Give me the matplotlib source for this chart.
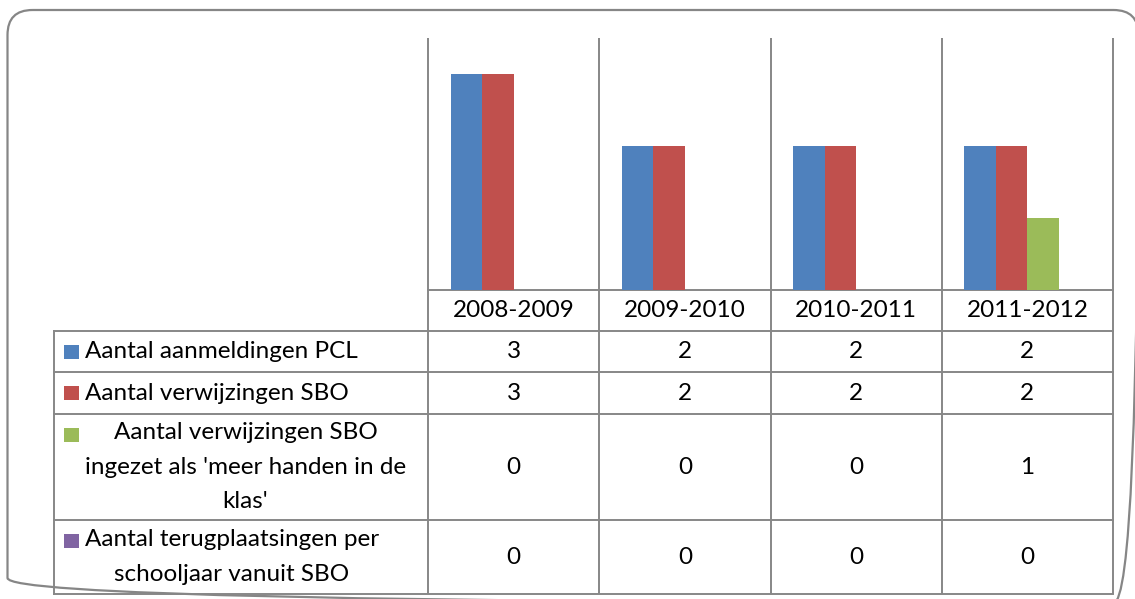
import numpy as np
import matplotlib
matplotlib.use("Agg")
import matplotlib.pyplot as plt
from matplotlib.patches import FancyBboxPatch, Rectangle

# ---- data ----
categories = ["2008-2009", "2009-2010", "2010-2011", "2011-2012"]
series_names = [
    "Aantal aanmeldingen PCL",
    "Aantal verwijzingen SBO",
    "Aantal verwijzingen SBO\ningezet als 'meer handen in de\nklas'",
    "Aantal terugplaatsingen per\nschooljaar vanuit SBO",
]
aanmeldingen_pcl = [3, 2, 2, 2]
verwijzingen_sbo = [3, 2, 2, 2]
verwijzingen_meer_handen = [0, 0, 0, 1]
terugplaatsingen = [0, 0, 0, 0]
series_values = [aanmeldingen_pcl, verwijzingen_sbo, verwijzingen_meer_handen, terugplaatsingen]
colors = ["#4F81BD", "#C0504D", "#9BBB59", "#8064A2"]

# ---- layout (pixels) ----
W, H = 1135, 599
FONT = "Lato"
FS = 17.5
GRID = "#878787"
LW = 1.4

fig = plt.figure(figsize=(W / 100, H / 100), dpi=100)
fig.patch.set_facecolor("white")

# overlay in pixel coordinates
ov = fig.add_axes([0, 0, 1, 1])
ov.set_xlim(0, W)
ov.set_ylim(H, 0)
ov.axis("off")
ov.patch.set_alpha(0)

# plot area
px_left, px_right, px_top, px_base = 428, 1113, 38, 290
ax = fig.add_axes([px_left / W, (H - px_base) / H, (px_right - px_left) / W, (px_base - px_top) / H])
ax.patch.set_alpha(0)
ax.set_xlim(0, len(categories))
ax.set_ylim(0, 3.5)
ax.axis("off")

n = len(series_values)
bw = 0.184
x = np.arange(len(categories)) + 0.5
for j, (vals, c) in enumerate(zip(series_values, colors)):
    ax.bar(x + (j - (n - 1) / 2) * bw, vals, width=bw, color=c, linewidth=0, zorder=3)

# border
border = FancyBboxPatch((7.5, 10), 1131, 593, boxstyle="round,pad=0,rounding_size=25",
                        fill=False, edgecolor="#868686", linewidth=1.6)
ov.add_patch(border)

# table geometry
col_x = np.linspace(px_left, px_right, len(categories) + 1)
row_y = [px_base, 331, 372, 414, 520, 594]
table_left = 54

for cx in col_x:
    ov.plot([cx, cx], [px_top, row_y[-1]], color=GRID, lw=LW, solid_capstyle="butt")
ov.plot([px_left, px_right], [px_base, px_base], color=GRID, lw=LW)
for ry in row_y[1:]:
    ov.plot([table_left, px_right], [ry, ry], color=GRID, lw=LW)
ov.plot([table_left, table_left], [row_y[1], row_y[-1]], color=GRID, lw=LW)

centers = (col_x[:-1] + col_x[1:]) / 2
for cx, cat in zip(centers, categories):
    ov.text(cx, (row_y[0] + row_y[1]) / 2, cat, ha="center", va="center",
            fontsize=FS, family=FONT, color="black")

pitch = 32.5
for i, (name, vals, c) in enumerate(zip(series_names, series_values, colors)):
    top, bot = row_y[i + 1], row_y[i + 2]
    yc = (top + bot) / 2
    lines = name.split("\n")
    y_first = yc - (len(lines) - 1) / 2 * pitch
    ov.add_patch(Rectangle((64, y_first - 7), 15, 14, color=c, linewidth=0))
    ov.text(85, yc, name, ha="left", va="center", multialignment="center",
            fontsize=FS, family=FONT, color="black", linespacing=1.8)
    for cx, v in zip(centers, vals):
        ov.text(cx, yc, str(v), ha="center", va="center", fontsize=FS, family=FONT, color="black")

fig.savefig("out.png", dpi=100, facecolor="white")
